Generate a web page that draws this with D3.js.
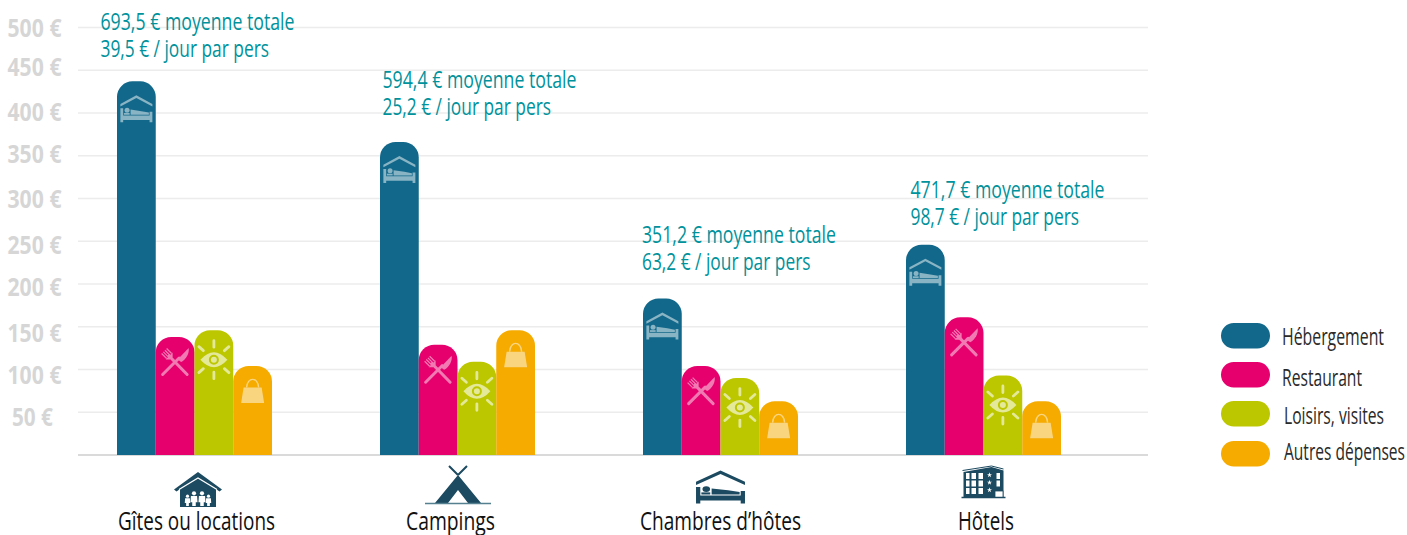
<!DOCTYPE html>
<html lang="fr"><head><meta charset="utf-8">
<script src="https://cdn.jsdelivr.net/npm/d3@7"></script>
<style>html,body{margin:0;padding:0;background:#fff;overflow:hidden}svg{display:block}text{font-family:"Open Sans",sans-serif}</style>
</head><body><svg id="c" width="1407" height="535"></svg>
<script>
const categories = ["Gîtes ou locations","Campings","Chambres d’hôtes","Hôtels"];
const seriesNames = ["Hébergement","Restaurant","Loisirs, visites","Autres dépenses"];
const hebergement = [437,366,183,246];
const restaurant = [138,129,104,161];
const loisirs = [146,109,90,93];
const autres = [104,146,63,63];
const totals = ["693,5 € moyenne totale","594,4 € moyenne totale","351,2 € moyenne totale","471,7 € moyenne totale"];
const perDay = ["39,5 € / jour par pers","25,2 € / jour par pers","63,2 € / jour par pers","98,7 € / jour par pers"];
const yTicks = [50,100,150,200,250,300,350,400,450,500];

const colors = ["#12688a","#e6006e","#bdc700","#f5ab00"];
const iconDark = "#1c4a60";
const svg = d3.select("#c");
const y = d3.scaleLinear().domain([0,500]).range([455,27.5]);
const x0 = d3.scaleBand().domain(categories).range([117,1061]).paddingInner(108/263).paddingOuter(0);
const x1 = d3.scaleBand().domain(seriesNames).range([0,x0.bandwidth()]);
const seriesValues = [hebergement,restaurant,loisirs,autres];

// icon definitions
const defs = svg.append("defs");
const bed = defs.append("g").attr("id","ic-bed");
bed.append("path").attr("d","M-16 8.5L0 0L16 8.5L16 6L0 -2.6L-16 6Z").attr("transform","translate(0,2.6)");
const bedBody = defs.append("g").attr("id","ic-bedbody");
bedBody.append("path").attr("d","M-16 0h2.8v7.2h26.4v-3.7h2.8v10.5h-2.8v-2.4h-26.4v2.4h-2.8Z");
bedBody.append("circle").attr("cx",-9.3).attr("cy",1.8).attr("r",2.5);
bedBody.append("path").attr("d","M-5.8 1.2L5 2.8L12.5 4.2V6.4H-5.8Z");
bedBody.append("rect").attr("x",-12.5).attr("y",4.6).attr("width",5.8).attr("height",1.8);

const cross = defs.append("g").attr("id","ic-fork");
cross.append("path").attr("d","M-6 -6L12 12.5M-12.5 12.5L4 -4").attr("stroke","#fff").attr("stroke-width",3).attr("stroke-linecap","round").attr("fill","none");
cross.append("path").attr("d","M2.5 -2.5L13.5 -14C14.5 -9 11 -2.5 6 0Z");
cross.append("path").attr("d","M-8.5 -3.5L-13.5 -8.5M-6.8 -5.2L-11.8 -10.2M-5.2 -6.8L-10.2 -11.8M-3.5 -8.5L-8.5 -13.5").attr("stroke","#fff").attr("stroke-width",1.2).attr("fill","none");
cross.append("path").attr("d","M-9.5 -2.5L-2.5 -9.5L-2.5 -5L-5 -2.5Z");

const eye = defs.append("g").attr("id","ic-eye");
eye.append("path").attr("fill-rule","evenodd").attr("d","M-13.5 0Q0 -15 13.5 0Q0 15 -13.5 0ZM-5 0A5 5 0 1 0 5 0A5 5 0 1 0 -5 0Z");
eye.append("circle").attr("r",3);
eye.append("path").attr("d","M0 -19V-12.5M0 12.5V19M-10.5 -9L-15 -13M10.5 -9L15 -13M-10.5 9L-15 13M10.5 9L15 13").attr("stroke","#fff").attr("stroke-width",2.8).attr("stroke-linecap","round").attr("fill","none");

const bag = defs.append("g").attr("id","ic-bag");
bag.append("path").attr("d","M-9 -3.5H9L11.5 12H-11.5Z");
bag.append("path").attr("d","M-6 -3.5C-5.5 -14.5 5.5 -14.5 6 -3.5").attr("stroke","#fff").attr("stroke-width",1.4).attr("fill","none");

// grid and axis
const axis = d3.axisLeft(y).tickValues(yTicks).tickSize(0).tickFormat(d=>d+" €");
const labelNudge = {50:4,100:5,150:6,200:2,250:3,300:0,350:-2,400:-2,450:-4,500:0};
const gA = svg.append("g").attr("class","axis").attr("transform","translate(34.5,0)").call(axis);
gA.select(".domain").remove();
gA.selectAll("text").attr("x",d=>d<100?-2:0).attr("text-anchor","middle").attr("font-size",25).attr("font-weight",700)
  .attr("fill","#d6d6d6").style("font-family","'Open Sans',sans-serif").attr("dy",d=>(labelNudge[d]+9)+"px")
  .attr("textLength",d=>d<100?41:54).attr("lengthAdjust","spacingAndGlyphs");
svg.append("g").selectAll("line").data(yTicks).join("line")
  .attr("x1",78).attr("x2",1148).attr("y1",d=>y(d)).attr("y2",d=>y(d)).attr("stroke","#ececec").attr("stroke-width",1.4);
svg.append("line").attr("x1",78).attr("x2",1148).attr("y1",y(0)).attr("y2",y(0)).attr("stroke","#dadada").attr("stroke-width",2);

// bars
function barPath(x,w,top,base,r){const p=d3.path();p.moveTo(x,base);p.lineTo(x,top+r);p.arcTo(x,top,x+r,top,r);p.lineTo(x+w-r,top);p.arcTo(x+w,top,x+w,top+r,r);p.lineTo(x+w,base);p.closePath();return p.toString();}
const rows = categories.flatMap((c,i)=>seriesNames.map((s,j)=>({c,s,j,v:seriesValues[j][i]})));
const bw = x1.bandwidth();
const gB = svg.append("g");
gB.selectAll("path").data(rows).join("path")
  .attr("d",d=>barPath(x0(d.c)+x1(d.s),bw,y(d.v),y(0),15.5))
  .attr("fill",d=>colors[d.j]);
// bar icons
const icG = svg.append("g").attr("fill","#fff");
const iconId = ["ic-bed","ic-fork","ic-eye","ic-bag"];
const iconDy = [14,25,29.5,25];
const iconOp = [0.5,0.48,0.6,0.5];
rows.forEach(d=>{
  const cx=x0(d.c)+x1(d.s)+bw/2, ty=y(d.v);
  icG.append("use").attr("href","#"+iconId[d.j]).attr("transform",`translate(${cx},${ty+iconDy[d.j]})`).attr("opacity",iconOp[d.j]);
  if(d.j===0) icG.append("use").attr("href","#ic-bedbody").attr("transform",`translate(${cx},${ty+27})`).attr("opacity",0.5);
});

// annotations
const noteDx=[-16.5,2.5,-1,4.5], noteTop=[30,88,243,198];
const noteG=svg.append("g").attr("fill","#00929c").attr("font-size",23);
categories.forEach((c,i)=>{
  const tx=x0(c)+noteDx[i];
  noteG.append("text").attr("x",tx).attr("y",noteTop[i]).attr("textLength",194).attr("lengthAdjust","spacingAndGlyphs").text(totals[i]);
  noteG.append("text").attr("x",tx).attr("y",noteTop[i]+27).attr("textLength",168.5).attr("lengthAdjust","spacingAndGlyphs").text(perDay[i]);
});

// category labels
const catW=[157,89,161,56], catC=[196.5,450.5,720.5,986];
const catBandDx=catC.map((v,i)=>v-(x0(categories[i])+x0.bandwidth()/2));
svg.append("g").selectAll("text").data(categories).join("text")
  .attr("x",(d,i)=>x0(d)+x0.bandwidth()/2+catBandDx[i]).attr("y",530).attr("text-anchor","middle")
  .attr("font-size",25).attr("fill","#111").attr("textLength",(d,i)=>catW[i]).attr("lengthAdjust","spacingAndGlyphs").text(d=>d);

// category icons
const gc=i=>x0(categories[i])+x0.bandwidth()/2;
const house=svg.append("g").attr("transform",`translate(${gc(0)+3.5},472)`).attr("fill",iconDark);
house.append("path").attr("d","M0 0L24 17.5L21.5 19.5L18 17V35H-18V17L-21.5 19.5L-24 17.5Z");
house.append("path").attr("d","M-19 17.5L0 6L19 17.5").attr("fill","none").attr("stroke","#fff").attr("stroke-width",1.3);
[[-10.5,0.85],[-4,1.1],[4,1.1],[10.5,0.85]].forEach(([fx,s])=>{
  const f=house.append("g").attr("transform",`translate(${fx},34) scale(${s})`).attr("fill","#fff");
  f.append("circle").attr("cy",-11.5).attr("r",1.9);
  f.append("path").attr("d","M-2.8 -9.2H2.8L3.2 -3.5H1.6V0H-1.6V-3.5H-3.2Z");
});
const tent=svg.append("g").attr("transform",`translate(${gc(1)+0.5},466)`);
tent.append("path").attr("d","M-9 0L0 9M9 0L0 9").attr("stroke",iconDark).attr("stroke-width",2);
tent.append("path").attr("d","M0 9L23 37H10L0 24L-10 37H-23Z").attr("fill",iconDark);
tent.append("line").attr("x1",-33).attr("x2",33).attr("y1",37.5).attr("y2",37.5).attr("stroke","#54808f").attr("stroke-width",1.6);
const cb=svg.append("g").attr("transform",`translate(${gc(2)},0)`).attr("fill",iconDark);
cb.append("use").attr("href","#ic-bed").attr("transform","translate(0,470.5) scale(1.53,1.3)");
cb.append("use").attr("href","#ic-bedbody").attr("transform","translate(0,487) scale(1.53,1.17)");
const ho=svg.append("g").attr("transform",`translate(${gc(3)},466)`);
ho.append("path").attr("d","M-20 6L8 1L20 4.5V32H-20Z").attr("fill",iconDark);
ho.append("path").attr("d","M-21 4.5L8 0L20 3").attr("fill","none").attr("stroke",iconDark).attr("stroke-width",1);
[-17.5,-12,-5].forEach((wx,ci)=>[7,14.5,22].forEach(wy=>ho.append("rect").attr("x",wx).attr("y",wy).attr("width",ci==0?3.5:4.5).attr("height",6).attr("fill","#fff")));
[0,1,2].forEach(k=>ho.append("path").attr("transform",`translate(6,${9+k*7.5}) scale(3.4)`).attr("d",d3.symbol(d3.symbolStar,0.7)()).attr("fill","#fff"));
[7,14.5].forEach(wy=>ho.append("rect").attr("x",13).attr("y",wy).attr("width",3.5).attr("height",6).attr("fill","#fff"));
ho.append("rect").attr("x",11.5).attr("y",25).attr("width",8).attr("height",6.5).attr("fill","#fff").attr("stroke",iconDark).attr("stroke-width",0.8);
ho.append("line").attr("x1",-22).attr("x2",22).attr("y1",31.5).attr("y2",31.5).attr("stroke",iconDark).attr("stroke-width",1.4);

// legend
const lgY=[323,362,401,441], lgTb=[345,386,424,460], lgTx=[1282,1282,1284,1284], lgW=[102,80,100,121];
const lg=svg.append("g");
seriesNames.forEach((s,i)=>{
  lg.append("rect").attr("x",1221).attr("y",lgY[i]).attr("width",49).attr("height",25.5).attr("rx",12.75).attr("fill",colors[i]);
  lg.append("text").attr("x",lgTx[i]).attr("y",lgTb[i]).attr("font-size",23).attr("fill","#2a2a2a").attr("textLength",lgW[i]).attr("lengthAdjust","spacingAndGlyphs").text(s);
});
</script></body></html>
